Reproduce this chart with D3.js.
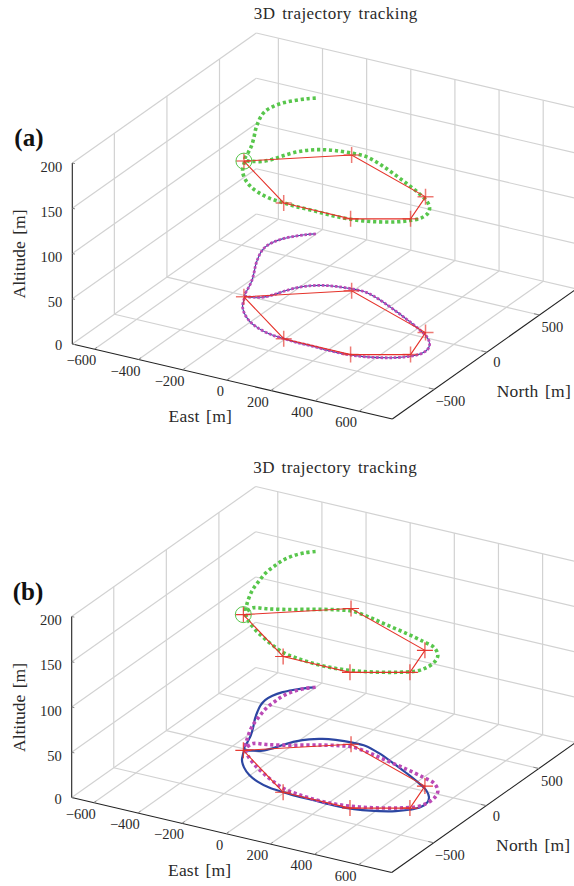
<!DOCTYPE html>
<html>
<head>
<meta charset="utf-8">
<script src="https://cdnjs.cloudflare.com/ajax/libs/d3/7.8.5/d3.min.js"></script>
<style>
  html, body { margin: 0; padding: 0; background: #fff; }
  text { font-family: "Liberation Serif", serif; fill: #2a2a2a; }
</style>
</head>
<body>
<div id="chart"></div>
<script>
const eastTicks = [-600, -400, -200, 0, 200, 400, 600];
const northTicks = [-500, 0, 500];
const altTicks = [0, 50, 100, 150, 200];
const upperAlt = 150;
const lowerAlt = 0;

// waypoints, east / north in metres
const wayEast = [-343, -6, 447, 502, 298, -6, -343];
const wayNorth = [-17, 300, 52, -206, -348, -346, -17];

// flown path (panel a all curves, panel b blue)
const pathAEast = [-402, -430, -462, -490, -507, -511, -501, -481, -457, -423, -391, -370, -348,
    -329, -310, -276, -253, -236, -208, -172, -129, -79, -9, 52, 132, 223, 316, 412, 473, 514, 534, 534,
    507, 468, 411, 350, 282, 208, 131, 55, -10, -76, -144, -204, -259, -301, -329, -344];
const pathANorth = [790, 761, 716, 665, 604, 543, 478, 407, 334, 246, 156, 81, 2,
    -7, 2, 26, 73, 130, 199, 251, 286, 307, 320, 318, 276, 213, 144, 68, 11, -50, -107, -170,
    -225, -270, -310, -339, -355, -358, -353, -353, -344, -332, -299, -252, -187, -118, -47, -4];

// second path (panel b green and purple)
const pathBEast = [-401, -432, -457, -470, -471, -468, -452, -433, -406, -375, -352,
    -343, -293, -233, -165, -97, -38, 14, 100, 191, 301, 396, 467, 516, 536, 535, 517, 466, 398, 325,
    261, 190, 112, 46, -16, -92, -166, -235, -301, -348];
const pathBNorth = [792, 753, 695, 628, 551, 463, 362, 264, 170, 80, 19,
    75, 97, 130, 177, 225, 258, 276, 255, 220, 180, 139, 100, 30, -45, -122, -179, -229, -276, -314,
    -336, -346, -342, -330, -310, -260, -200, -136, -61, 9];

const WIDTH = 574, HEIGHT = 886;
const GRID = "#d2d2d2", RED = "#e5322a", GREEN = "#58c64c", PURPLE = "#bb4ab6", BLUE = "#2c46a2";

const svg = d3.select("#chart").append("svg")
    .attr("width", WIDTH)
    .attr("height", HEIGHT)
    .style("display", "block");

// oblique projection, one scale per screen component
const eastX = d3.scaleLinear().domain([-700, 750]).range([0, 320]);
const eastY = d3.scaleLinear().domain([-700, 750]).range([0, 75]);
const northX = d3.scaleLinear().domain([-900, 850]).range([0, 184]);
const northY = d3.scaleLinear().domain([-900, 850]).range([0, -130]);
const altY = d3.scaleLinear().domain([0, 200]).range([0, -181]);

const E0 = -700, E1 = 750, N0 = -900, N1 = 850, Z1 = 200;

function px(e, n) { return eastX(e) + northX(n); }
function py(e, n, z) { return eastY(e) + northY(n) + altY(z); }

function drawPanel(panel, x0, y0, label, labelX, curves) {
    const g = svg.append("g").attr("transform", `translate(${x0},${y0})`);

    function seg(p, q, color, w) {
        g.append("line")
            .attr("x1", px(p[0], p[1])).attr("y1", py(p[0], p[1], p[2]))
            .attr("x2", px(q[0], q[1])).attr("y2", py(q[0], q[1], q[2]))
            .attr("stroke", color).attr("stroke-width", w);
    }

    // grid: floor, left wall, back wall
    eastTicks.forEach(e => {
        seg([e, N0, 0], [e, N1, 0], GRID, 1.2);
        seg([e, N1, 0], [e, N1, Z1], GRID, 1.2);
    });
    northTicks.forEach(n => {
        seg([E0, n, 0], [E1, n, 0], GRID, 1.2);
        seg([E0, n, 0], [E0, n, Z1], GRID, 1.2);
    });
    altTicks.forEach(z => {
        seg([E0, N0, z], [E0, N1, z], GRID, 1.2);
        seg([E0, N1, z], [E1, N1, z], GRID, 1.2);
    });

    // curves
    curves.forEach(c => {
        const line = d3.line()
            .x((d, i) => px(c.east[i], c.north[i]))
            .y((d, i) => py(c.east[i], c.north[i], c.alt))
            .curve(d3.curveCatmullRom.alpha(0.5));
        g.append("path")
            .attr("d", line(c.east))
            .attr("fill", "none")
            .attr("stroke", c.color)
            .attr("stroke-width", c.width)
            .attr("stroke-dasharray", c.dash || null);
    });

    // waypoints
    [upperAlt, lowerAlt].forEach(z => {
        const line = d3.line()
            .x((d, i) => px(wayEast[i], wayNorth[i]))
            .y((d, i) => py(wayEast[i], wayNorth[i], z));
        g.append("path")
            .attr("d", line(wayEast))
            .attr("fill", "none")
            .attr("stroke", RED)
            .attr("stroke-width", 1.1);

        wayEast.slice(0, -1).forEach((e, i) => {
            const cx = px(e, wayNorth[i]), cy = py(e, wayNorth[i], z);
            g.append("path")
                .attr("d", `M${cx - 8},${cy}H${cx + 8}M${cx},${cy - 8}V${cy + 8}`)
                .attr("fill", "none")
                .attr("stroke", RED)
                .attr("stroke-width", panel === "a" ? 1.5 : 1.1)
                .attr("stroke-opacity", panel === "a" ? 0.65 : 0.95);
        });
    });

    // start circle on the upper path
    g.append("circle")
        .attr("cx", px(wayEast[0], wayNorth[0]))
        .attr("cy", py(wayEast[0], wayNorth[0], upperAlt))
        .attr("r", 8)
        .attr("fill", "none")
        .attr("stroke", GREEN)
        .attr("stroke-width", 1);

    // axes
    seg([E0, N0, 0], [E0, N0, Z1], "#222", 1.1);
    seg([E0, N0, 0], [E1, N0, 0], "#222", 1.1);
    seg([E1, N0, 0], [E1, N1, 0], "#222", 1.1);

    // ticks and tick labels
    const fmt = v => (v < 0 ? "\u2212" + (-v) : "" + v);

    eastTicks.forEach(e => {
        seg([e, N0, 0], [e, N0 + 25, 0], "#888", 1);
        g.append("text")
            .attr("x", px(e, N0) + (e === 0 ? -6.5 : -13))
            .attr("y", py(e, N0, 0) + 16)
            .attr("text-anchor", "middle")
            .attr("font-size", 14.5)
            .text(fmt(e));
    });
    northTicks.forEach(n => {
        seg([E1, n, 0], [E1 - 25, n, 0], "#888", 1);
        g.append("text")
            .attr("x", px(E1, n) + (n === 0 ? 10 : n < 0 ? 16 : 13))
            .attr("y", py(E1, n, 0) + (n === 0 ? 15 : 17))
            .attr("text-anchor", "middle")
            .attr("font-size", 14.5)
            .text(fmt(n));
    });
    altTicks.forEach(z => {
        seg([E0, N0, z], [E0 + 12, N0, z], "#888", 1);
        g.append("text")
            .attr("x", px(E0, N0) - 10)
            .attr("y", py(E0, N0, z) + (z === 0 ? 6 : 8.5))
            .attr("text-anchor", "end")
            .attr("font-size", 14.5)
            .text(fmt(z));
    });

    // axis titles and panel letter, relative to the panel origin
    g.append("text").attr("x", 263.5).attr("y", -325)
        .attr("text-anchor", "middle").attr("font-size", 17)
        .style("word-spacing", "2px").style("letter-spacing", "0.45px")
        .text("3D trajectory tracking");
    g.append("text").attr("x", 128).attr("y", 78)
        .attr("text-anchor", "middle").attr("font-size", 17.5)
        .style("word-spacing", "2px").style("letter-spacing", "0.2px")
        .text("East [m]");
    g.append("text").attr("x", 461.5).attr("y", 53)
        .attr("text-anchor", "middle").attr("font-size", 17.5)
        .style("word-spacing", "2px").style("letter-spacing", "0.2px")
        .text("North [m]");
    g.append("text")
        .attr("transform", "translate(-47,-90) rotate(-90)")
        .attr("text-anchor", "middle").attr("font-size", 17.5)
        .style("word-spacing", "2px")
        .text("Altitude [m]");
    g.append("text").attr("x", labelX).attr("y", -198)
        .attr("font-size", 25).attr("font-weight", "bold")
        .style("fill", "#111")
        .text(label);
}

drawPanel("a", 72.3, 344, "(a)", -58, [
    { east: pathAEast, north: pathANorth, alt: upperAlt, color: GREEN, width: 3.6, dash: "3.2 2.8" },
    { east: pathAEast, north: pathANorth, alt: lowerAlt, color: BLUE, width: 1.1 },
    { east: pathAEast, north: pathANorth, alt: lowerAlt, color: PURPLE, width: 2.8, dash: "2.6 1.8" }
]);

drawPanel("b", 71.7, 797.5, "(b)", -59, [
    { east: pathBEast, north: pathBNorth, alt: upperAlt, color: GREEN, width: 3.6, dash: "3.2 2.8" },
    { east: pathAEast, north: pathANorth, alt: lowerAlt, color: BLUE, width: 2.2 },
    { east: pathBEast, north: pathBNorth, alt: lowerAlt, color: PURPLE, width: 3.6, dash: "3.2 2.8" }
]);
</script>
</body>
</html>
